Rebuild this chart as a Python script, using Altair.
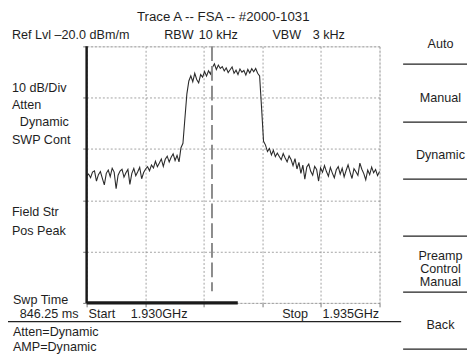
import altair as alt
import pandas as pd

# ---------------- data ----------------
TITLE = "Trace A -- FSA -- #2000-1031"
START_GHZ = 1.930
STOP_GHZ = 1.935
REF_LEVEL = -20.0          # dBm/m (top of screen)
DB_PER_DIV = 10
N_DIV = 10
RBW_KHZ = 10
VBW_KHZ = 3
SWEEP_MS = 846.25

# trace level readings (dBm/m), evenly spaced sweep points
trace_dbm = [
    -70.5, -69.8, -71.2, -69.0, -68.5, -72.5, -70.0, -68.8, -71.5, -74.0,
    -69.5, -68.2, -70.8, -67.5, -69.0, -75.5, -70.2, -68.6, -67.9, -71.0,
    -69.3, -68.0, -73.8, -69.5, -67.6, -70.4, -68.9, -67.2, -71.6, -69.2,
    -67.8, -66.9,
    -68.5, -66.2, -67.4, -64.8, -66.9, -65.5, -63.9, -66.8, -64.0, -62.8,
    -65.1, -63.2, -61.9, -64.5, -62.5,
    -65.0, -59.5,
    -57.8, -48.0, -38.5, -33.5,
    -31.5, -33.8, -30.5, -32.9, -34.2, -31.0, -32.0, -29.8, -31.6, -29.5, -30.8,
    -28.2, -26.8, -29.0, -27.3, -28.6,
    -27.9, -29.6, -28.4, -30.2, -29.1, -28.0, -30.5, -29.3, -31.0, -28.8,
    -30.1, -29.4, -31.2, -29.0, -30.4, -28.7, -29.9, -28.6, -30.5,
    -31.5, -44.0, -57.0,
    -58.5, -61.0, -59.8, -62.3, -60.5, -63.0, -61.6, -62.9, -64.2, -61.8,
    -63.5, -65.0, -62.7, -64.1, -66.5, -63.8,
    -67.8, -65.2, -69.5, -66.3, -71.8, -67.0, -65.9, -68.7, -70.2, -66.8,
    -68.0, -72.5, -67.4, -69.1, -66.5, -68.8, -70.6, -67.2, -69.4, -71.2,
    -68.1, -66.9, -69.8, -67.5, -70.9, -68.4, -66.2, -69.0, -71.5, -67.7,
    -68.9, -70.3, -65.5, -67.9, -69.6, -72.0, -68.2, -70.0, -67.1, -69.3,
    -68.0, -70.4, -68.8,
]
MARKER_MHZ = 2.14          # offset from start frequency
MARKER_BOTTOM_DBM = -115.5
SWEEP_PROGRESS_MHZ = 2.58

left_labels = ["10 dB/Div", "Atten", "Dynamic", "SWP Cont", "Field Str", "Pos Peak"]
softkeys = [["Auto"], ["Manual"], ["Dynamic"], [], ["Preamp", "Control", "Manual"], ["Back"]]
status_lines = ["Atten=Dynamic", "AMP=Dynamic"]

# ---------------- build ----------------
FONT = "Liberation Sans"
FS = 12.8
INK = "#1e1e1e"
OX, OY = 88, 44            # page position of plot origin
W, H = 298, 261

span_mhz = (STOP_GHZ - START_GHZ) * 1000
n = len(trace_dbm)
freq = [i * span_mhz / (n - 1) for i in range(n)]
df = pd.DataFrame({"f": freq, "dbm": trace_dbm})

bottom = REF_LEVEL - DB_PER_DIV * N_DIV
xs = alt.Scale(domain=[0, span_mhz], nice=False, zero=False)
ys = alt.Scale(domain=[bottom, REF_LEVEL], nice=False, zero=False)
xticks = [i * span_mhz / N_DIV for i in range(N_DIV + 1)]
yticks = [bottom + i * DB_PER_DIV for i in range(N_DIV + 1)]

grid_kw = dict(labels=False, title=None, domain=False, grid=True,
               gridDash=[2, 2], gridColor="#8a8a8a", gridWidth=0.8,
               ticks=True, tickSize=4, tickColor="#555", tickWidth=0.8)

trace = alt.Chart(df).mark_line(color="#2a2a2a", strokeWidth=1.1).encode(
    x=alt.X("f:Q", scale=xs, axis=alt.Axis(values=xticks, **grid_kw)),
    y=alt.Y("dbm:Q", scale=ys, axis=alt.Axis(values=yticks, **grid_kw)),
)

marker = alt.Chart(pd.DataFrame({"f": [MARKER_MHZ], "a": [REF_LEVEL], "b": [MARKER_BOTTOM_DBM]})).mark_rule(
    color="#8c8c8c", strokeWidth=2, strokeDash=[15, 5]
).encode(x=alt.X("f:Q", scale=xs), y=alt.Y("a:Q", scale=ys), y2="b:Q")

left_border = alt.Chart(pd.DataFrame({"f": [0.0], "a": [REF_LEVEL], "b": [bottom]})).mark_rule(
    color="#1a1a1a", strokeWidth=2.5
).encode(x=alt.X("f:Q", scale=xs), y=alt.Y("a:Q", scale=ys), y2="b:Q")

progress = alt.Chart(pd.DataFrame({"a": [0.0], "b": [SWEEP_PROGRESS_MHZ], "y": [bottom]})).mark_rule(
    color="#1a1a1a", strokeWidth=3.5
).encode(x=alt.X("a:Q", scale=xs), x2="b:Q", y=alt.Y("y:Q", scale=ys))


def txt(s, px, py, align="left", size=FS):
    return alt.Chart(alt.Data(values=[{}])).mark_text(
        text=s, align=align, baseline="middle",
        font=FONT, fontSize=size, color=INK,
    ).encode(x=alt.value(px - OX), y=alt.value(py - OY))


def hline(x1, x2, py, w=1.2):
    return alt.Chart(alt.Data(values=[{}])).mark_rule(color="#222", strokeWidth=w).encode(
        x=alt.value(x1 - OX), x2=alt.value(x2 - OX), y=alt.value(py - OY)
    )


texts = [
    txt(TITLE, 227, 14, "center", 13.5),
    txt(f"Ref Lvl \u2013{abs(REF_LEVEL):.1f} dBm/m", 12, 33),
    txt("RBW", 167, 33), txt(f"{RBW_KHZ} kHz", 202, 33),
    txt("VBW", 277, 33), txt(f"{VBW_KHZ} kHz", 318, 33),
    txt(left_labels[0], 12, 86),
    txt(left_labels[1], 12, 104),
    txt(left_labels[2], 20, 121),
    txt(left_labels[3], 12, 139),
    txt(left_labels[4], 12, 213),
    txt(left_labels[5], 12, 232),
    txt("Swp Time", 13, 302),
    txt(f"{SWEEP_MS:.2f} ms", 20, 316),
    txt("Start", 90, 316), txt(f"{START_GHZ:.3f}GHz", 133, 316),
    txt("Stop", 287, 316), txt(f"{STOP_GHZ:.3f}GHz", 328, 316),
    txt(status_lines[0], 13, 335),
    txt(status_lines[1], 13, 350),
]
soft_y = [[42], [97], [155], [], [257, 271, 284], [328]]
for labs, ys_ in zip(softkeys, soft_y):
    for lab, yy in zip(labs, ys_):
        texts.append(txt(lab, 448, yy, "center"))

lines = [hline(0, 408, 324)]
for yy in [62, 121, 179, 237, 294, 352]:
    lines.append(hline(410, 476, yy))

chart = alt.layer(trace, marker, left_border, progress, *texts, *lines).properties(
    width=W, height=H,
    padding={"left": 80, "top": 36, "right": 89, "bottom": 51},
    autosize=alt.AutoSizeParams(type="none"),
).configure_view(stroke="#222", strokeWidth=1.5).configure(background="white")

chart.save("out.html", embed_options={"renderer": "svg", "actions": False})
